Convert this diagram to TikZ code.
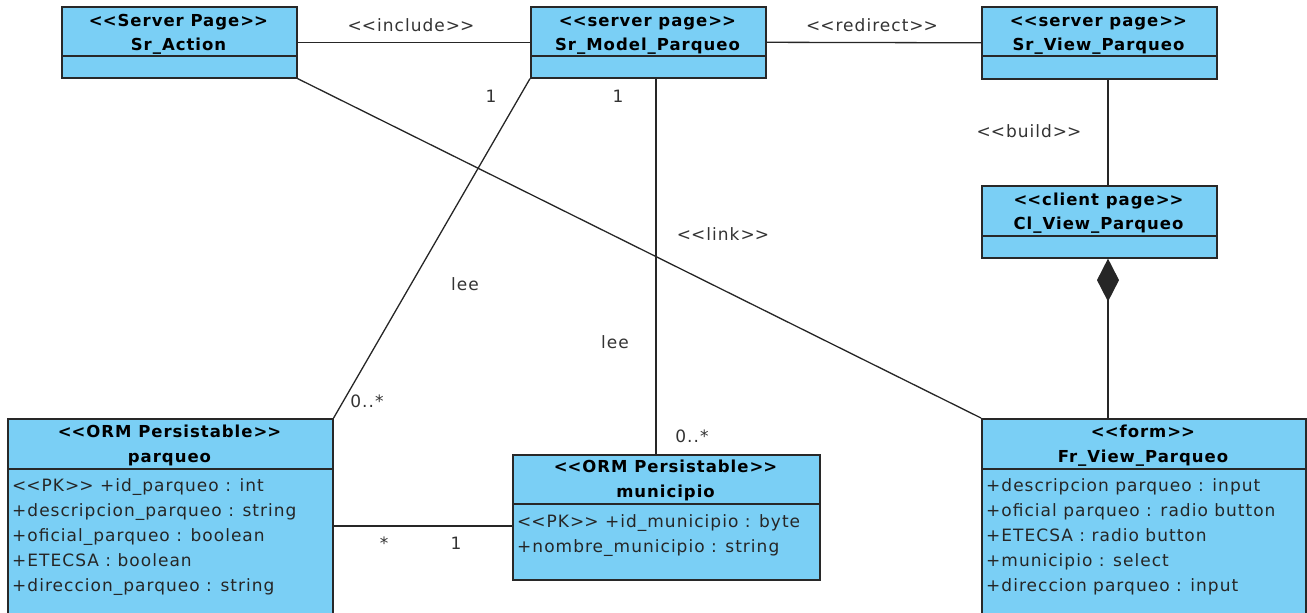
\documentclass[tikz,border=0pt]{standalone}
\usepackage{fontspec}
\setmainfont{DejaVu Sans}[LetterSpace=6, Ligatures=TeXOff]
\usetikzlibrary{arrows.meta}
\definecolor{umlfill}{RGB}{122,207,245}
\definecolor{umlline}{RGB}{40,40,40}
\newcommand{\stereo}[1]{<\kern0pt<#1>\kern0pt>}

\begin{document}
\begin{tikzpicture}[x=1pt, y=-1pt, font=\fontsize{17}{20}\selectfont,
  classbox/.style={draw=umlline, fill=umlfill, line width=1.6pt, anchor=north west, inner sep=0pt},
  stname/.style={font=\fontsize{16.5}{20}\selectfont\bfseries, anchor=base, inner sep=0pt},
  attr/.style={anchor=base west, inner sep=0pt, text=black!85},
  lbl/.style={text=black!80, inner sep=0pt},
  assoc/.style={draw=black!85, line width=1.3pt}]
\useasboundingbox (0,0) rectangle (1307,613);
% class boxes
\node[classbox, minimum width=235pt, minimum height=71pt] (action) at (61,6) {};
\node[classbox, minimum width=235pt, minimum height=71pt] (model) at (530,6) {};
\node[classbox, minimum width=235pt, minimum height=72pt] (view) at (981,6) {};
\node[classbox, minimum width=235pt, minimum height=72pt] (client) at (981,185) {};
\node[classbox, minimum width=325pt, minimum height=205pt] (parqueo) at (7,418) {};
\node[classbox, minimum width=307pt, minimum height=125pt] (munic) at (512,454) {};
\node[classbox, minimum width=324pt, minimum height=205pt] (form) at (981,418) {};
\foreach \b/\d in {action/50, model/50, view/50, client/51, parqueo/51, munic/50, form/51}
  \draw[umlline, line width=1.6pt] ([yshift=-\d pt]\b.north west) -- ([yshift=-\d pt]\b.north east);
% headers
\node[stname] (actionS) at (178.5,26) {\stereo{Server Page}};
\node[stname] (actionN) at (178.5,50) {Sr\_Action};
\node[stname] (modelS) at (647.5,26) {\stereo{server page}};
\node[stname] (modelN) at (647.5,50) {Sr\_Model\_Parqueo};
\node[stname] (viewS) at (1098.5,26) {\stereo{server page}};
\node[stname] (viewN) at (1098.5,50) {Sr\_View\_Parqueo};
\node[stname] (clientS) at (1098.5,205) {\stereo{client page}};
\node[stname] (clientN) at (1098.5,229) {Cl\_View\_Parqueo};
\node[stname] (parqueoS) at (169.5,437) {\stereo{ORM Persistable}};
\node[stname] (parqueoN) at (169.5,462) {parqueo};
\node[stname] (municS) at (665.5,472) {\stereo{ORM Persistable}};
\node[stname] (municN) at (665.5,497) {municipio};
\node[stname] (formS) at (1143,437) {\stereo{form}};
\node[stname] (formN) at (1143,462) {Fr\_View\_Parqueo};
% attributes
\foreach \t [count=\i] in {\stereo{PK} +id\_parqueo : int, +descripcion\_parqueo : string,
    +oficial\_parqueo : boolean, +ETECSA : boolean, +direccion\_parqueo : string}
  \node[attr] (pqa\i) at (12, 466+25*\i) {\t};
\foreach \t [count=\i] in {\stereo{PK} +id\_municipio : byte, +nombre\_municipio : string}
  \node[attr] (mua\i) at (517, 502+25*\i) {\t};
\foreach \t [count=\i] in {+descripcion parqueo : input, +oficial parqueo : radio button,
    +ETECSA : radio button, +municipio : select, +direccion parqueo : input}
  \node[attr] (fra\i) at (986, 466+25*\i) {\t};
% connectors
\coordinate (bx) at (1108,0);
\coordinate (mx) at (656,0);
\coordinate (py) at (0,526);
\draw[assoc] (action.east) -- (model.west);
\draw[assoc] (model.east) -- (view.west);
\draw[assoc] (view.south -| bx) -- (client.north -| bx);
\draw[assoc, -{Diamond[length=43pt, width=22pt]}] (form.north -| bx) -- (client.south -| bx);
\draw[assoc] (action.south east) -- (form.north west);
\draw[assoc] (model.south west) -- (parqueo.north east);
\draw[assoc] (model.south -| mx) -- (munic.north -| mx);
\draw[assoc] (parqueo.east |- py) -- (munic.west |- py);
% labels
\node[lbl] (incl) at (411,25) {\stereo{include}};
\node[lbl] (redir) at (872,25) {\stereo{redirect}};
\node[lbl] (build) at (1029,131) {\stereo{build}};
\node[lbl] (link) at (723,234) {\stereo{link}};
\node[lbl] (lee1) at (465,284) {lee};
\node[lbl] (lee2) at (615,342) {lee};
\node[lbl] (one1) at (491,96) {1};
\node[lbl] (one2) at (618,96) {1};
\node[lbl] (many1) at (367,401) {0..*};
\node[lbl] (many2) at (692,436) {0..*};
\node[lbl] (star) at (384,543) {*};
\node[lbl] (one3) at (456,543) {1};
\end{tikzpicture}
\end{document}
